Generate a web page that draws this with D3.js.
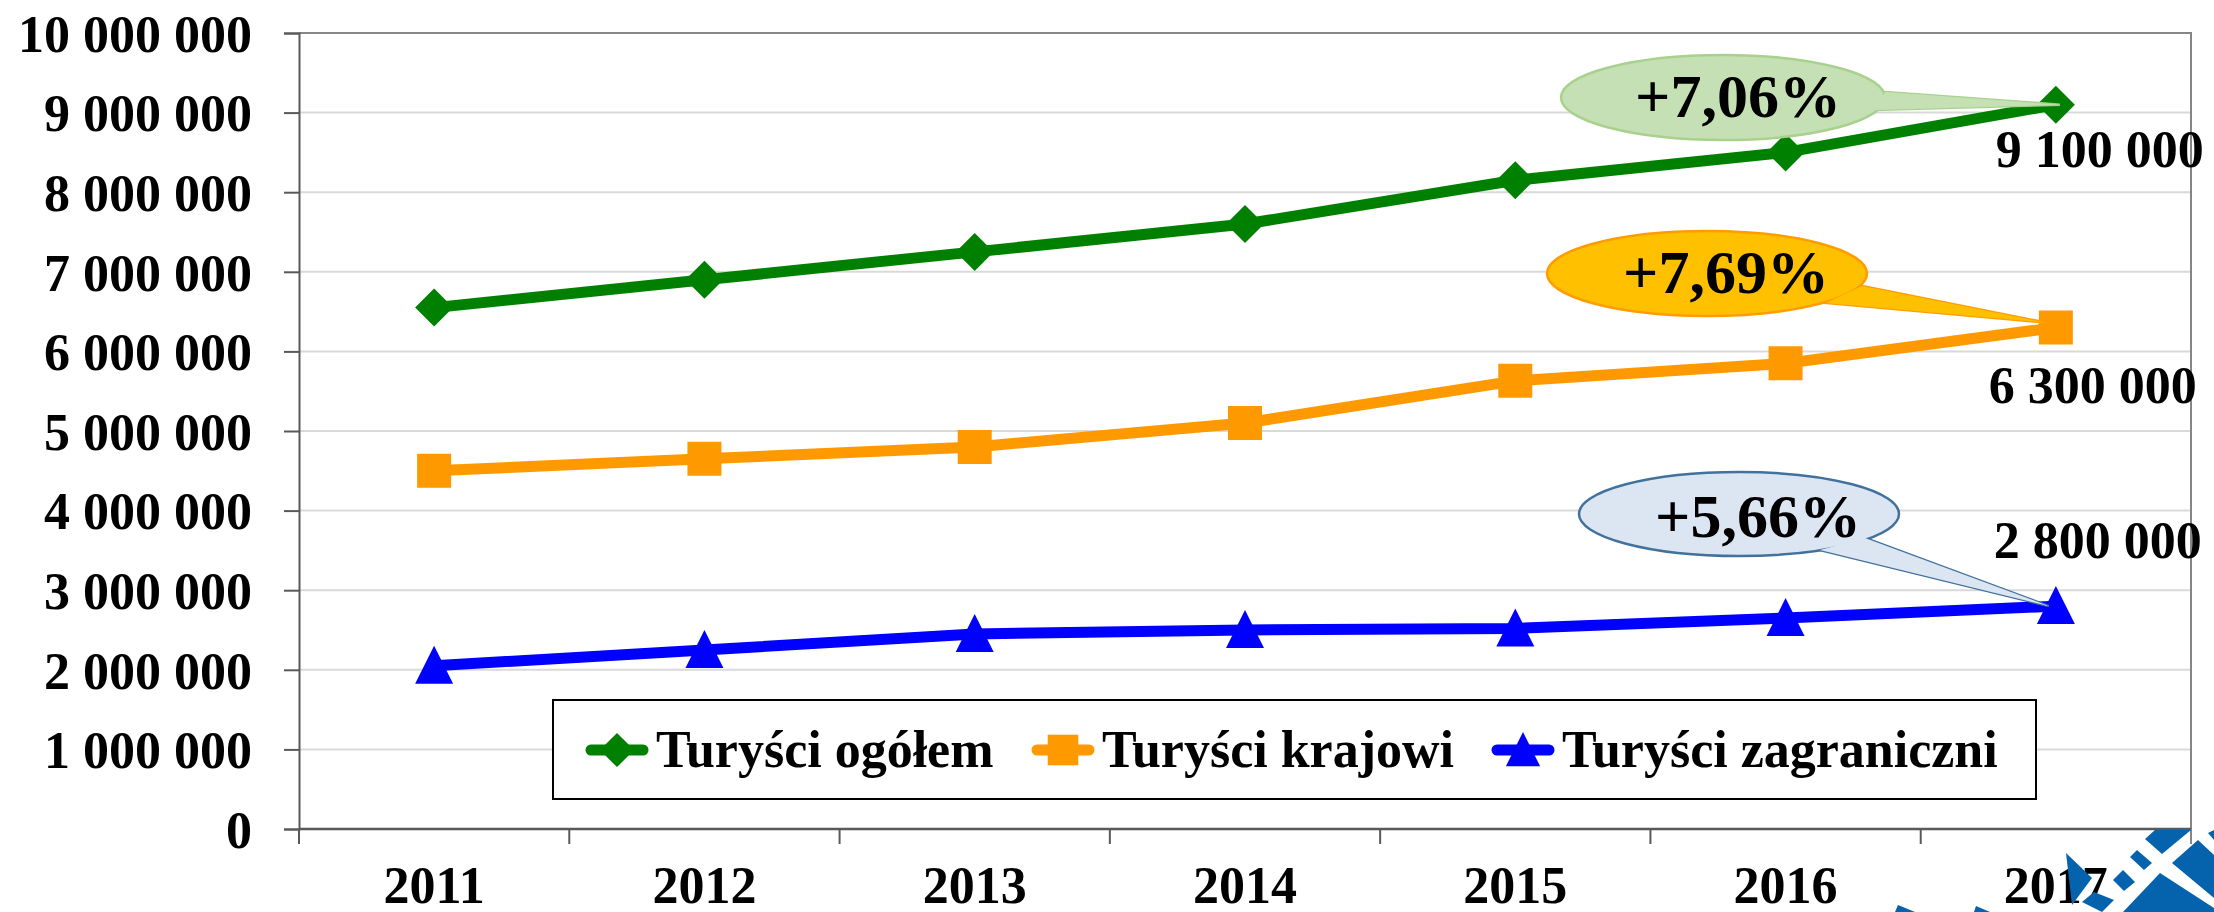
<!DOCTYPE html>
<html>
<head>
<meta charset="utf-8">
<script src="https://cdn.jsdelivr.net/npm/d3@7"></script>
<style>
  body { margin: 0; background: #fff; }
  svg { display: block; font-family: "Liberation Serif", "Times New Roman", serif; font-weight: bold; }
</style>
</head>
<body>
<div id="chart"></div>
<script>
// Chart data
var years = ["2011", "2012", "2013", "2014", "2015", "2016", "2017"];
var totalTourists = [6550000, 6900000, 7250000, 7600000, 8150000, 8500000, 9100000];
var domesticTourists = [4500000, 4650000, 4800000, 5100000, 5630000, 5850000, 6300000];
var foreignTourists = [2050000, 2250000, 2450000, 2500000, 2520000, 2650000, 2800000];
var seriesNames = ["Turyści ogółem", "Turyści krajowi", "Turyści zagraniczni"];
var yTicks = [0, 1000000, 2000000, 3000000, 4000000, 5000000, 6000000, 7000000, 8000000, 9000000, 10000000];
var changeLabels = ["+7,06%", "+7,69%", "+5,66%"];

(function() {
  var width = 2214,
      height = 912;
  var margin = {top: 33, right: 23, bottom: 83, left: 299};

  var svg = d3.select("#chart")
    .append("svg")
      .attr("width", width)
      .attr("height", height);

  svg.append("rect")
    .attr("width", width)
    .attr("height", height)
    .attr("fill", "#fff");

  // Polish style number format: 10 000 000
  var locale = d3.formatLocale({decimal: ",", thousands: " ", grouping: [3], currency: ["", ""]});
  var fmt = locale.format(",d");

  var x = d3.scaleBand()
    .domain(years)
    .range([margin.left, width - margin.right])
    .padding(0);

  var y = d3.scaleLinear()
    .domain([0, 10000000])
    .range([height - margin.bottom, margin.top]);

  var cx = function(yr) { return x(yr) + x.bandwidth() / 2; };

  // Gridlines
  svg.append("g")
    .selectAll("line")
    .data(yTicks.slice(1, -1))
    .enter()
    .append("line")
      .attr("x1", margin.left)
      .attr("x2", width - margin.right)
      .attr("y1", function(d) { return y(d); })
      .attr("y2", function(d) { return y(d); })
      .attr("stroke", "#d9d9d9")
      .attr("stroke-width", 2);

  // Plot border (top and right)
  svg.append("path")
    .attr("d", "M" + margin.left + "," + y(10000000) + "H" + (width - margin.right) + "V" + (y(0) + 15))
    .attr("fill", "none")
    .attr("stroke", "#868686")
    .attr("stroke-width", 2);

  // Y axis
  var yAxis = svg.append("g")
    .attr("transform", "translate(" + margin.left + ",0)")
    .call(d3.axisLeft(y).tickValues(yTicks).tickSize(15).tickPadding(32).tickFormat(fmt));
  yAxis.select(".domain").attr("stroke", "#595959").attr("stroke-width", 2);
  yAxis.selectAll(".tick line").attr("stroke", "#595959").attr("stroke-width", 2);
  yAxis.selectAll(".tick text")
    .attr("dy", "0.35em")
    .style("font-family", "'Liberation Serif', serif")
    .style("font-weight", "bold")
    .style("font-size", "52px")
    .attr("fill", "#000");

  // X axis: labels at band centres, ticks on band edges
  var xAxis = svg.append("g")
    .attr("transform", "translate(0," + y(0) + ")")
    .call(d3.axisBottom(x).tickSize(0).tickSizeOuter(0));
  xAxis.select(".domain").remove();
  xAxis.selectAll(".tick text")
    .attr("y", 74)
    .attr("dy", 0)
    .style("font-family", "'Liberation Serif', serif")
    .style("font-weight", "bold")
    .style("font-size", "52px")
    .attr("fill", "#000");

  svg.append("line")
    .attr("x1", margin.left)
    .attr("x2", width - margin.right)
    .attr("y1", y(0))
    .attr("y2", y(0))
    .attr("stroke", "#595959")
    .attr("stroke-width", 2.5);

  svg.append("g")
    .selectAll("line")
    .data(years)
    .enter()
    .append("line")
      .attr("x1", function(d) { return x(d); })
      .attr("x2", function(d) { return x(d); })
      .attr("y1", y(0))
      .attr("y2", y(0) + 15)
      .attr("stroke", "#595959")
      .attr("stroke-width", 2);

  // Series
  var series = [
    {name: seriesNames[0], values: totalTourists, color: "#008000", marker: "diamond"},
    {name: seriesNames[1], values: domesticTourists, color: "#ff9900", marker: "square"},
    {name: seriesNames[2], values: foreignTourists, color: "#0000ff", marker: "triangle"}
  ];

  var markerPath = {
    diamond: "M0,-19L19,0L0,19L-19,0Z",
    square: "M-17,-17H17V17H-17Z",
    triangle: "M0,-20L19,18L-19,18Z"
  };

  var line = d3.line()
    .x(function(d, i) { return cx(years[i]); })
    .y(function(d) { return y(d); });

  series.forEach(function(s) {
    svg.append("path")
      .datum(s.values)
      .attr("d", line)
      .attr("fill", "none")
      .attr("stroke", s.color)
      .attr("stroke-width", 11)
      .attr("stroke-linejoin", "round");

    svg.append("g")
      .selectAll("path")
      .data(s.values)
      .enter()
      .append("path")
        .attr("transform", function(d, i) { return "translate(" + cx(years[i]) + "," + y(d) + ")"; })
        .attr("d", markerPath[s.marker])
        .attr("fill", s.color);
  });

  // Value labels at 2017
  var last = years.length - 1;
  var valueOffsets = [[44, 62], [37, 75], [42, -48]];
  series.forEach(function(s, i) {
    svg.append("text")
      .attr("x", cx(years[last]) + valueOffsets[i][0])
      .attr("y", y(s.values[last]) + valueOffsets[i][1])
      .attr("text-anchor", "middle")
      .style("font-size", "52px")
      .text(fmt(s.values[last]));
  });

  // Callouts with growth rates
  var callouts = [
    {cx: 1723, cy: 97.5, rx: 162, ry: 42.5, base: [[1885, 92], [1876, 110]], tip: [4, 0],
     fill: "#c5e0b4", stroke: "#a9d18e", tx: 1738, ty: 117},
    {cx: 1707, cy: 273.5, rx: 160, ry: 42.5, base: [[1862, 286], [1826, 303]], tip: [-10, -5],
     fill: "#ffc000", stroke: "#ff9c00", tx: 1726, ty: 293},
    {cx: 1739, cy: 514, rx: 160, ry: 42, base: [[1865, 538], [1820, 550]], tip: [-7, 0],
     fill: "#dce6f2", stroke: "#41719c", tx: 1758, ty: 537}
  ];

  callouts.forEach(function(c, i) {
    var s = series[i];
    var tip = [cx(years[last]) + c.tip[0], y(s.values[last]) + c.tip[1]];
    var tri = "M" + c.base[0] + "L" + tip + "L" + c.base[1] + "Z";
    var g = svg.append("g");
    g.append("path").attr("d", tri).attr("fill", c.fill).attr("stroke", c.stroke).attr("stroke-width", 2.5);
    g.append("ellipse")
      .attr("cx", c.cx).attr("cy", c.cy).attr("rx", c.rx).attr("ry", c.ry)
      .attr("fill", c.fill).attr("stroke", c.stroke).attr("stroke-width", 2.5);
    g.append("path").attr("d", tri).attr("fill", c.fill);
    g.append("text")
      .attr("x", c.tx)
      .attr("y", c.ty)
      .attr("text-anchor", "middle")
      .style("font-size", "62px")
      .text(changeLabels[i]);
  });

  // Legend
  var legend = svg.append("g");
  legend.append("rect")
    .attr("x", 553)
    .attr("y", 700)
    .attr("width", 2036 - 553)
    .attr("height", 99)
    .attr("fill", "#fff")
    .attr("stroke", "#000")
    .attr("stroke-width", 2);

  var legendX = [617, 1063, 1523];
  series.forEach(function(s, i) {
    var g = legend.append("g").attr("transform", "translate(" + legendX[i] + ",750)");
    g.append("line")
      .attr("x1", -26).attr("x2", 26)
      .attr("stroke", s.color)
      .attr("stroke-width", 11)
      .attr("stroke-linecap", "round");
    g.append("path")
      .attr("d", markerPath[s.marker])
      .attr("transform", "scale(0.9)")
      .attr("fill", s.color);
    g.append("text")
      .attr("x", 39)
      .attr("y", 17)
      .style("font-size", "52px")
      .text(s.name);
  });

  // Corner logo fragment
  var logo = [
    [[2145, 839], [2155, 830], [2191, 830], [2162, 854]],
    [[2130, 857], [2137, 850], [2152, 863], [2144, 870]],
    [[2113, 880], [2123, 870], [2135, 882], [2124, 891]],
    [[2082, 902], [2094, 892], [2114, 900], [2102, 912]],
    [[2066, 853], [2092, 878], [2072, 905]],
    [[2172, 863], [2198, 840], [2214, 855], [2214, 898]],
    [[2160, 873], [2214, 908], [2214, 912], [2123, 912]],
    [[1898, 905], [1915, 912], [1895, 912]],
    [[1976, 906], [1990, 912], [1974, 912]],
    [[2208, 833], [2214, 830], [2214, 840]]
  ];
  svg.append("g")
    .selectAll("path")
    .data(logo)
    .enter()
    .append("path")
      .attr("d", function(d) { return "M" + d.join("L") + "Z"; })
      .attr("fill", "#0563ae");
})();
</script>
</body>
</html>
